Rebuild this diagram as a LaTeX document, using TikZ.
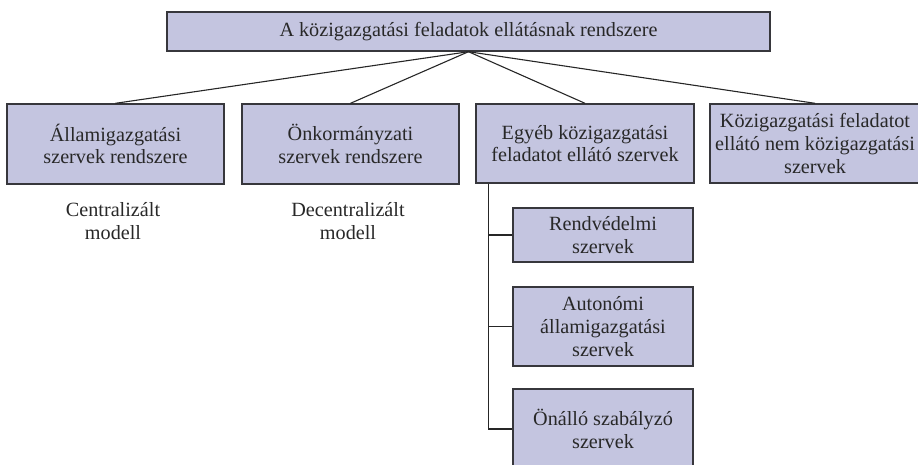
\documentclass[tikz,border=0pt]{standalone}
\usepackage{fontspec}
\setmainfont{Liberation Serif}
\definecolor{boxfill}{RGB}{196,197,224}
\definecolor{boxline}{RGB}{55,55,60}
\definecolor{txt}{RGB}{40,40,40}
\begin{document}
\begin{tikzpicture}[x=1pt,y=-1pt,
  box/.style={draw=boxline,line width=1.4pt,fill=boxfill,rectangle,inner sep=0pt,align=center,text=txt,font=\fontsize{20.2}{22.8}\selectfont},
  lbl/.style={inner sep=0pt,align=center,text=txt,font=\fontsize{20.2}{22.8}\selectfont},
  conn/.style={draw=black!85,line width=1.1pt}]
\useasboundingbox (0,0) rectangle (918,464);
\clip (0,0) rectangle (918,464);
\node[box,minimum width=603pt,minimum height=39pt] (top) at (468.5,31.5) {A közigazgatási feladatok ellátásnak rendszere};
\node[box,minimum width=217pt,minimum height=80pt] (b1) at (115.5,144) {Államigazgatási\\szervek rendszere};
\node[box,minimum width=217pt,minimum height=80pt] (b2) at (350.5,144) {Önkormányzati\\szervek rendszere};
\node[box,minimum width=218pt,minimum height=79pt] (b3) at (585,143.5) {Egyéb közigazgatási\\feladatot ellátó szervek};
\node[box,minimum width=210pt,minimum height=79pt] (b4) at (815,143.5) {Közigazgatási feladatot\\ellátó nem közigazgatási\\szervek};
\node[lbl] (c1) at (113,221) {Centralizált\\modell};
\node[lbl] (c2) at (348,221) {Decentralizált\\modell};
\node[box,minimum width=180pt,minimum height=54pt] (s1) at (603,235) {Rendvédelmi\\szervek};
\node[box,minimum width=180pt,minimum height=79pt] (s2) at (603,326.5) {Autonómi\\államigazgatási\\szervek};
\node[box,minimum width=180pt,minimum height=80pt] (s3) at (603,429) {Önálló szabályzó\\szervek};
\foreach \b in {b1,b2,b3,b4} \draw[conn] (top.south) -- (\b.north);
\coordinate (trunk) at ([xshift=13pt]b3.south west);
\draw[conn] (trunk) |- (s3.west);
\draw[conn] (s1.west) -- (s1.west -| trunk);
\draw[conn] (s2.west) -- (s2.west -| trunk);
\end{tikzpicture}
\end{document}
